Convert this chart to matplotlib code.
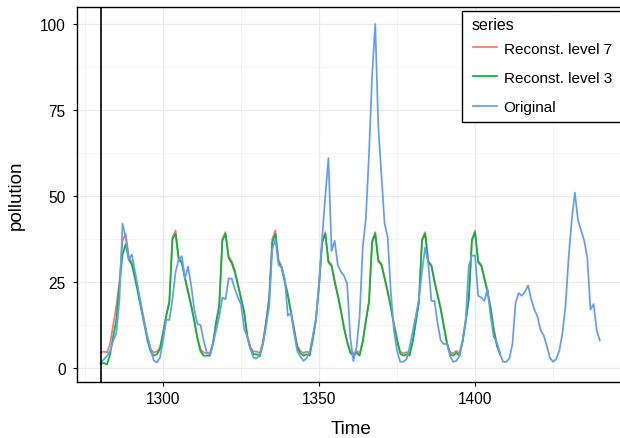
import matplotlib
matplotlib.use("Agg")
import matplotlib.pyplot as plt
from matplotlib.patches import Rectangle
import numpy as np

plt.rcParams["font.family"] = ["Liberation Sans", "DejaVu Sans"]

# time index of the series
time_recon = np.arange(1280, 1409)
time_orig = np.arange(1280, 1441)

recon_level7 = [
    4.5, 4.8, 4.5, 7, 12.5, 18, 25, 37, 39, 32.5, 30.5, 27, 22.5, 18, 13.5, 9, 5.5, 4.5, 4.8, 6,
    10.5, 15.5, 19.5, 38, 40, 32, 31, 26.5, 22.5, 18.5, 14, 9, 5.5, 4.5, 4.3, 4.3, 7.5, 13.5, 18.5, 37.5,
    39.5, 32.5, 31, 28.5, 24.5, 20.5, 16.5, 9.5, 6, 4.8, 4.8, 4.3, 7.5, 13.5, 20.5, 37.5, 40, 31.5, 29.5, 25.5,
    21.5, 16.5, 11.5, 6.5, 5, 4.3, 4.8, 4.3, 8.8, 14.5, 24.5, 37, 39.5, 31.2, 30, 25.5, 21.5, 17, 12, 8,
    5, 4.3, 5, 4.3, 8, 14, 19.5, 37, 39.5, 31.5, 30.3, 26.5, 22.5, 18, 13, 8.5, 4.8, 4.3, 4.6, 4.3,
    8, 13.8, 19.5, 37.5, 39.5, 31.2, 30, 25.5, 21.5, 17.5, 12.5, 7.5, 4.6, 4.3, 5, 4.3, 8, 13.8, 20.5, 37.5,
    40, 31.2, 30, 26.5, 22.5, 17.8, 11.5, 6.8, 4.5,
]

recon_level3 = [
    1.2, 1.5, 1.0, 4, 9, 14, 24, 33, 36, 31.5, 30, 26, 21.5, 17, 12.5, 8, 4.8, 3.6, 4, 5.5,
    10, 15, 19, 37.5, 39, 31.5, 30.5, 26, 22, 18, 13.5, 8.5, 4.8, 3.6, 3.6, 3.6, 7, 13, 18, 37,
    39, 32, 30.5, 27.8, 24, 20, 16, 9, 5.5, 4, 4, 3.4, 7, 13, 20, 36.5, 39, 30.7, 29, 25,
    21, 16, 11, 6, 4.3, 3.6, 4, 3.6, 8.4, 14, 24, 36.5, 39, 30.7, 29.7, 25, 21, 16.5, 11.5, 7.5,
    4.4, 3.6, 4.4, 3.6, 7.5, 13.5, 19, 36.5, 39, 31, 30, 26, 22, 17.5, 12.5, 8, 4.2, 3.6, 4, 3.6,
    7.5, 13.3, 19, 37, 39, 30.7, 29.7, 25, 21, 17, 12, 7, 4, 3.6, 4.4, 3.6, 7.5, 13.3, 20, 37,
    39.4, 30.7, 29.7, 25.9, 22, 17.2, 11, 6.5, 4,
]

original = [
    1.5, 2.5, 3.5, 5, 8, 10, 20, 42, 38, 31.5, 33, 28, 23, 18, 13, 9, 5.5, 2.2, 1.6, 3,
    8, 14, 14, 20, 28, 31.5, 32.5, 26, 29.5, 24, 17, 12.8, 12.5, 8, 4.5, 4, 7, 11, 15, 20.5,
    20, 26, 26, 23, 20.5, 18.5, 11.3, 9, 5.5, 3, 2.8, 4, 7, 12, 18, 34.5, 37.5, 30, 29.3, 26,
    15.2, 16, 10, 5, 3.3, 2.1, 2.8, 4.8, 9.4, 14, 25, 38, 50, 61, 34, 37, 30, 28, 26.8, 24.5,
    9, 2, 6, 15, 35, 43.5, 62, 85, 100, 70, 56, 42, 38, 22, 11, 5, 1.8, 1.8, 2.5, 6,
    10.5, 15, 20, 28, 35, 30.5, 19.5, 19.5, 13, 8, 7, 7, 3.5, 1.8, 2.1, 3.5, 8, 14, 29.7, 32.7,
    32.7, 21, 20.5, 19.5, 23, 15, 9, 7.5, 4.1, 1.8, 1.8, 2.8, 7, 19, 21.8, 21, 22.2, 24, 20, 17,
    15, 11, 9.5, 6.5, 3, 1.8, 2.6, 5, 10, 18, 32, 43, 51, 43, 40, 37, 32, 17, 18.6, 11,
    8,
]

series_names = ["Reconst. level 7", "Reconst. level 3", "Original"]
series_colors = ["#F8766D", "#00BA38", "#619CFF"]
start_marker = 1280

W, H = 620, 439
fig = plt.figure(figsize=(W / 100, H / 100), dpi=100)
ax = fig.add_axes([0.1237, 0.1282, 0.884, 0.8529])

ax.plot(time_recon, recon_level7, color=series_colors[0], lw=1.25, label=series_names[0])
ax.plot(time_recon, recon_level3, color=series_colors[1], lw=1.25, label=series_names[1])
ax.plot(time_orig, original, color=series_colors[2], lw=1.25, label=series_names[2])
ax.axvline(start_marker, color="black", lw=1.2)

ax.set_xlim(1272.3, 1448)
ax.set_ylim(-3.98, 104.86)
ax.set_xticks([1300, 1350, 1400])
ax.set_xticks([1275, 1325, 1375, 1425], minor=True)
ax.set_yticks([0, 25, 50, 75, 100])
ax.set_yticks([12.5, 37.5, 62.5, 87.5], minor=True)
ax.grid(which="major", color="#EBEBEB", lw=0.9)
ax.grid(which="minor", color="#F2F2F2", lw=0.6)
ax.set_axisbelow(True)
for s in ax.spines.values():
    s.set_color("black")
    s.set_linewidth(1.0)
ax.tick_params(which="major", length=3, width=0.8, color="black", labelsize=11.2)
ax.tick_params(axis="y", pad=5)
ax.tick_params(axis="x", pad=4)
ax.tick_params(which="minor", length=0)

ax.set_xlabel("Time", fontsize=13.5, labelpad=10)
ax.set_ylabel("pollution", fontsize=13.5, labelpad=11)

# legend box drawn by hand so the title and padding can be placed freely
box = Rectangle((462 / W, 1 - 123 / H), 170 / W, (123 - 11.7) / H, transform=fig.transFigure,
                facecolor="white", edgecolor="black", lw=1.0, zorder=4, clip_on=False)
ax.add_patch(box)
ax.text(472 / W, 1 - 25.5 / H, "series", transform=fig.transFigure, fontsize=11.5,
        ha="left", va="center", zorder=6)

leg = ax.legend(
    loc="upper left",
    bbox_to_anchor=(473 / W, 1 - 42.5 / H),
    bbox_transform=fig.transFigure,
    fontsize=11,
    frameon=False,
    borderaxespad=0,
    borderpad=0,
    handlelength=1.55,
    handletextpad=0.45,
    labelspacing=1.0,
)
leg.set_zorder(7)

fig.savefig("out.png", dpi=100)
